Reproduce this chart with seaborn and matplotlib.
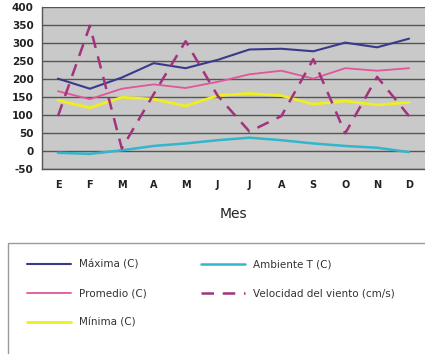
import matplotlib
matplotlib.use("Agg")
import matplotlib.pyplot as plt
import seaborn as sns
from matplotlib.patches import Rectangle
from matplotlib.ticker import FixedLocator

# monthly values
meses = ["E", "F", "M", "A", "M", "J", "J", "A", "S", "O", "N", "D"]
maxima = [201, 173, 204, 244, 230, 253, 282, 284, 277, 301, 288, 312]
promedio = [166, 144, 173, 185, 175, 192, 213, 223, 201, 230, 223, 230]
minima = [141, 120, 149, 144, 125, 154, 160, 154, 130, 139, 128, 135]
ambiente = [-5, -8, 2, 14, 21, 30, 37, 30, 21, 14, 9, -3]
viento = [97, 348, 7, 158, 305, 154, 54, 97, 255, 49, 206, 97]
y_ticks = [-50, 0, 50, 100, 150, 200, 250, 300, 350, 400]

sns.set_style("white")
plt.rcParams["font.family"] = ["DejaVu Sans"]

fig = plt.figure(figsize=(4.25, 3.54), dpi=100)
ax = fig.add_axes([42 / 425, 1 - 169 / 354, 383 / 425, 162 / 354])
ax.set_facecolor("#c9c9c9")

x = list(range(len(meses)))
sns.lineplot(x=x, y=maxima, ax=ax, color="#3a3a8c", linewidth=1.5, label="Máxima (C)")
sns.lineplot(x=x, y=promedio, ax=ax, color="#e2559a", linewidth=1.3, label="Promedio (C)")
sns.lineplot(x=x, y=minima, ax=ax, color="#eeee22", linewidth=2.0, label="Mínima (C)")
sns.lineplot(x=x, y=ambiente, ax=ax, color="#33b5cc", linewidth=1.8, label="Ambiente T (C)")
sns.lineplot(x=x, y=viento, ax=ax, color="#a3327f", linewidth=1.8,
             linestyle=(0, (5, 3.5)), label="Velocidad del viento (cm/s)")

ax.set_xlim(-0.5, 11.5)
ax.set_ylim(-50, 400)
ax.set_yticks(y_ticks)
ax.set_yticklabels([str(v) for v in y_ticks], fontsize=7.5, fontweight="bold", color="#222222")
ax.set_xticks(x)
ax.set_xticklabels(meses, fontsize=7, fontweight="bold", color="#222222")
ax.xaxis.set_minor_locator(FixedLocator([i - 0.5 for i in range(13)]))
ax.tick_params(axis="x", which="major", length=0, pad=8)
ax.tick_params(axis="x", which="minor", length=3, color="#333333", direction="out")
ax.tick_params(axis="y", length=3, color="#333333", pad=3)
ax.yaxis.grid(True, color="#555555", linewidth=1)
ax.set_axisbelow(True)
for s in ["top", "right"]:
    ax.spines[s].set_visible(False)
for s in ["left", "bottom"]:
    ax.spines[s].set_color("#555555")
    ax.spines[s].set_linewidth(1)
ax.set_xlabel("Mes", fontsize=10, color="#222222", labelpad=12)
ax.set_ylabel("")

handles, labels = ax.get_legend_handles_labels()
ax.get_legend().remove()
fig.legend(handles, labels, ncol=2, frameon=False, loc="upper left",
           bbox_to_anchor=(18 / 425, 1 - 250 / 354), fontsize=7.5,
           handlelength=4.2, labelspacing=1.85, columnspacing=5.2,
           labelcolor="#333333")

fig.patches.append(Rectangle((8 / 425, -0.1), 1.0, 0.1 + 1 - 243 / 354,
                             transform=fig.transFigure, fill=False,
                             edgecolor="#9a9a9a", linewidth=1))

fig.savefig("out.png", dpi=100)
